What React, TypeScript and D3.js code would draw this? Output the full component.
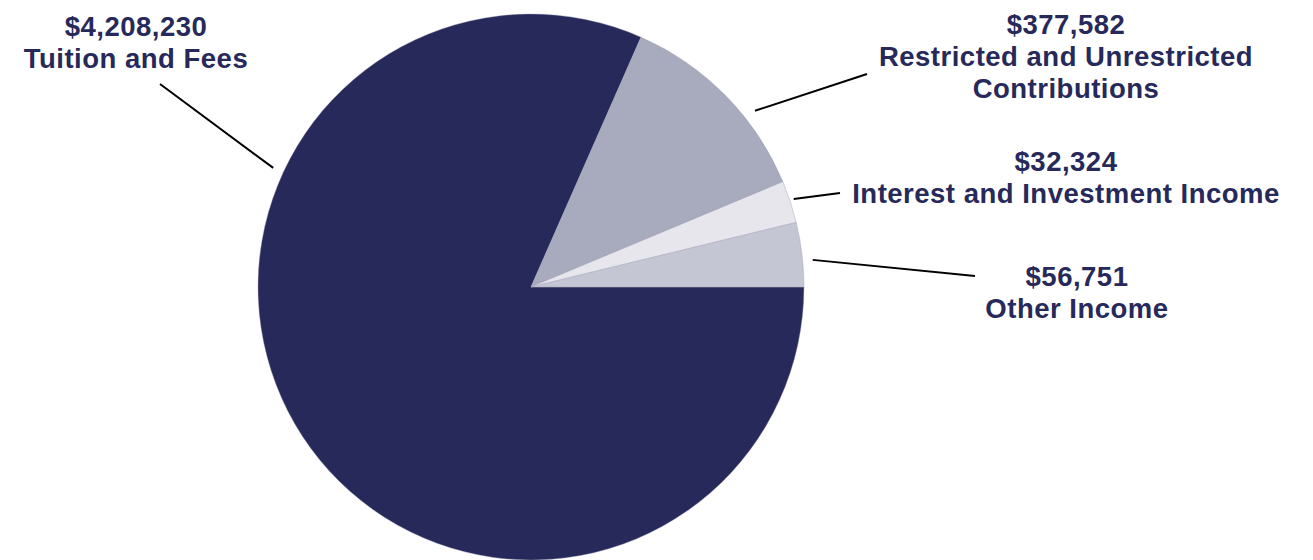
import React from "react";
import * as d3 from "d3";

// ---- data ----
const categories = [
  "Tuition and Fees",
  "Restricted and Unrestricted Contributions",
  "Interest and Investment Income",
  "Other Income",
];
const amounts = [4208230, 377582, 32324, 56751];
// slice shares as drawn in the reference (percent of circle)
const sliceShares = [81.6, 12.1, 2.5, 3.8];
const sliceColors = ["#262959", "#a8aabd", "#e6e6ec", "#c5c6d4"];

// ---- layout ----
const W = 1313;
const H = 560;
const CX = 531;
const CY = 287;
const R = 273;

// label layout: text centre x, first baseline y, lines, leader start (deg from north, radius), leader end
const labelLayout = [
  { x: 136, y: 36, lines: ["Tuition and Fees"], a: 294.8, rr: 284, ex: 160, ey: 84 },
  { x: 1066, y: 34, lines: ["Restricted and Unrestricted", "Contributions"], a: 51.8, rr: 285, ex: 867, ey: 74 },
  { x: 1066, y: 171, lines: ["Interest and Investment Income"], a: 71.5, rr: 277, ex: 840, ey: 193 },
  { x: 1077, y: 286, lines: ["Other Income"], a: 84.5, rr: 283, ex: 975, ey: 276 },
];

const fmt = d3.format("$,");

export default function App() {
  const pie = d3
    .pie<number>()
    .sort(null)
    .value((d) => d)
    .startAngle(Math.PI / 2)
    .endAngle(Math.PI / 2 + 2 * Math.PI);
  const arcs = pie(sliceShares);
  const arc = d3.arc<d3.PieArcDatum<number>>().innerRadius(0).outerRadius(R);
  const textColor = "#262959";
  const lh = 32;

  return (
    <svg
      width={W}
      height={H}
      style={{ position: "absolute", left: 0, top: 0, background: "#fff" }}
      fontFamily="'Liberation Sans', Arial, sans-serif"
    >
      <g transform={`translate(${CX},${CY})`}>
        {arcs.map((d, i) => (
          <path key={i} d={arc(d) || ""} fill={sliceColors[i]} stroke="#9a9cb4" strokeWidth={0.4} />
        ))}
      </g>
      {labelLayout.map((l, i) => {
        const ang = (l.a * Math.PI) / 180;
        const sx = CX + l.rr * Math.sin(ang);
        const sy = CY - l.rr * Math.cos(ang);
        return <line key={"l" + i} x1={sx} y1={sy} x2={l.ex} y2={l.ey} stroke="#000" strokeWidth={2} />;
      })}
      {labelLayout.map((l, i) => (
        <text
          key={"t" + i}
          x={l.x}
          y={l.y}
          textAnchor="middle"
          fill={textColor}
          fontSize={27.5}
          fontWeight={700}
          letterSpacing={0.5}
        >
          <tspan x={l.x} y={l.y}>{fmt(amounts[i])}</tspan>
          {l.lines.map((s, j) => (
            <tspan key={j} x={l.x} y={l.y + lh * (j + 1)}>
              {s}
            </tspan>
          ))}
        </text>
      ))}
    </svg>
  );
}
